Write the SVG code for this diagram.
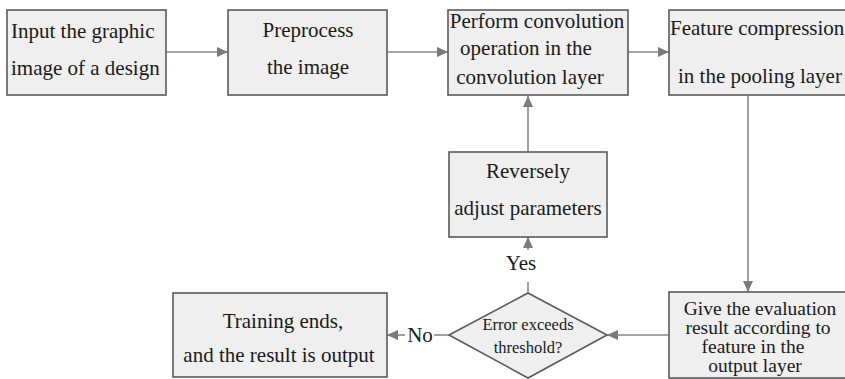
<svg xmlns="http://www.w3.org/2000/svg" width="845" height="379" viewBox="0 0 845 379">
  <style>
    .box { fill: #eeefee; stroke: #5a5a5a; stroke-width: 1.6; }
    .lbl { font-family: 'Liberation Serif', 'Times New Roman', serif; font-size: 21px; fill: #1a1a1a; }
    .mid { text-anchor: middle; }
    .small { font-size: 16.5px; }
    .tight { font-size: 19.5px; }
    .conn { stroke: #8a8a8a; stroke-width: 1.6; fill: none; }
  </style>
  <defs>
    <marker id="arrow" markerUnits="userSpaceOnUse" markerWidth="12" markerHeight="12" refX="11" refY="6" orient="auto">
      <path d="M0,1 L11,6 L0,11 Z" fill="#7a7a7a"/>
    </marker>
  </defs>

  <rect width="845" height="379" fill="#ffffff"/>

  <g id="connectors">
    <line class="conn" x1="166" y1="52" x2="228" y2="52" marker-end="url(#arrow)"/>
    <line class="conn" x1="387" y1="52" x2="448" y2="52" marker-end="url(#arrow)"/>
    <line class="conn" x1="628" y1="52" x2="669" y2="52" marker-end="url(#arrow)"/>
    <line class="conn" x1="748" y1="96" x2="748" y2="292" marker-end="url(#arrow)"/>
    <line class="conn" x1="669" y1="335" x2="607" y2="335" marker-end="url(#arrow)"/>
    <line class="conn" x1="528" y1="293" x2="528" y2="282"/>
    <line class="conn" x1="528" y1="250" x2="528" y2="237" marker-end="url(#arrow)"/>
    <line class="conn" x1="528" y1="152" x2="528" y2="96" marker-end="url(#arrow)"/>
    <line class="conn" x1="449" y1="335" x2="434" y2="335"/>
    <line class="conn" x1="405" y1="335" x2="387" y2="335" marker-end="url(#arrow)"/>
    <text class="lbl mid" x="521" y="270">Yes</text>
    <text class="lbl mid" x="420" y="342">No</text>
  </g>

  <g id="input">
    <rect class="box" x="7" y="10" width="159" height="85"/>
    <text class="lbl" x="11" y="38">Input the graphic</text>
    <text class="lbl" x="11" y="75">image of a design</text>
  </g>

  <g id="preprocess">
    <rect class="box" x="228" y="10" width="159" height="85"/>
    <text class="lbl mid" x="308" y="37">Preprocess</text>
    <text class="lbl mid" x="308" y="74">the image</text>
  </g>

  <g id="convolution">
    <rect class="box" x="448" y="10" width="180" height="85"/>
    <text class="lbl mid" x="537" y="28">Perform convolution</text>
    <text class="lbl mid" x="526" y="55">operation in the</text>
    <text class="lbl mid" x="530" y="84">convolution layer</text>
  </g>

  <g id="pooling">
    <rect class="box" x="669" y="10" width="190" height="85"/>
    <text class="lbl" x="670" y="35">Feature compression</text>
    <text class="lbl" x="678" y="83">in the pooling layer</text>
  </g>

  <g id="adjust">
    <rect class="box" x="449" y="152" width="158" height="85"/>
    <text class="lbl mid" x="528" y="178">Reversely</text>
    <text class="lbl mid" x="528" y="215">adjust parameters</text>
  </g>

  <g id="decision">
    <polygon class="box" points="528,293 607,335 528,378 449,335"/>
    <text class="lbl mid small" x="528" y="330">Error exceeds</text>
    <text class="lbl mid small" x="528" y="353">threshold?</text>
  </g>

  <g id="evaluation">
    <rect class="box" x="669" y="292" width="190" height="86"/>
    <text class="lbl mid tight" x="760" y="315">Give the evaluation</text>
    <text class="lbl mid tight" x="758" y="334">result according to</text>
    <text class="lbl mid tight" x="753" y="353">feature in the</text>
    <text class="lbl mid tight" x="755" y="372">output layer</text>
  </g>

  <g id="training-end">
    <rect class="box" x="173" y="293" width="214" height="84"/>
    <text class="lbl mid" x="283" y="328">Training ends,</text>
    <text class="lbl mid" x="279" y="362">and the result is output</text>
  </g>
</svg>
